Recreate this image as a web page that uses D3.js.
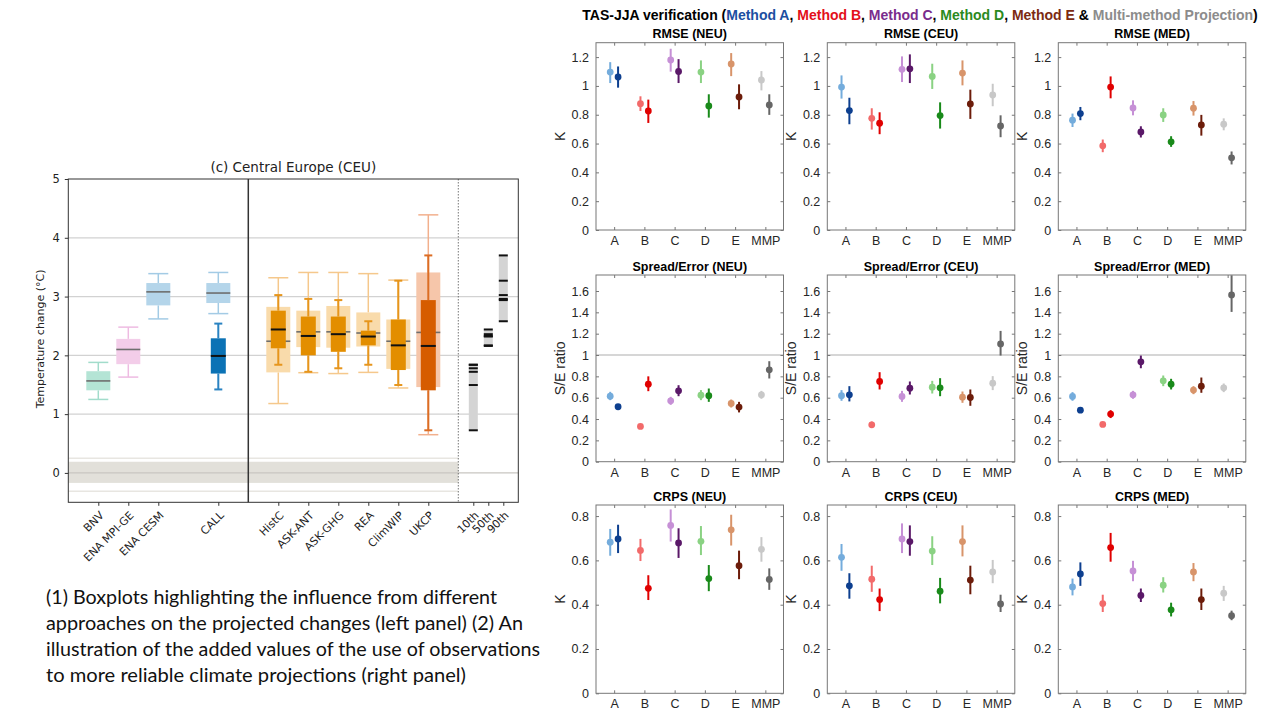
<!DOCTYPE html>
<html><head><meta charset="utf-8">
<script src="https://cdn.jsdelivr.net/npm/d3@7"></script>
<style>body{margin:0;background:#fff;} svg{display:block;}</style>
</head><body>
<svg id="c" width="1280" height="720"></svg>
<script>
// ================= DATA =================
// Left panel: boxplots of projected CEU temperature change
const boxCategories = ["BNV","ENA MPI-GE","ENA CESM","CALL","HistC","ASK-ANT","ASK-GHG","REA","ClimWIP","UKCP"];
// [lower whisker, q1, median, q3, upper whisker]
const outerBoxStats = [
  [1.25,1.405,1.565,1.73,1.88],
  [1.63,1.85,2.10,2.28,2.48],
  [2.62,2.85,3.08,3.23,3.39],
  [2.71,2.89,3.06,3.23,3.41],
  [1.18,1.71,2.24,2.825,3.32],
  [1.705,2.14,2.40,2.76,3.41],
  [1.69,2.13,2.40,2.84,3.41],
  [1.71,2.15,2.38,2.73,3.39],
  [1.445,1.77,2.24,2.61,3.28],
  [0.65,1.46,2.39,3.41,4.39]
];
const innerBoxStats = [
  null, null, null,
  [1.42,1.69,1.99,2.29,2.54],
  [1.84,2.12,2.44,2.76,3.025],
  [1.72,2.00,2.33,2.66,2.96],
  [1.78,2.06,2.36,2.66,2.94],
  [1.84,2.17,2.32,2.42,2.58],
  [1.495,1.75,2.17,2.61,3.27],
  [0.725,1.405,2.16,2.94,3.70]
];
const percentileLabels = ["10th","50th","90th"];
const zeroBandInner = [-0.17, 0.19];
const zeroBandOuter = [-0.31, 0.25];
const leftYTicks = [0,1,2,3,4,5];

// Right panels
const methods = ["A","B","C","D","E","MMP"];
const regions = ["NEU","CEU","MED"];
const metricNames = ["RMSE","Spread/Error","CRPS"];
const metricUnits = ["K","S/E ratio","K"];
const rmseTicks = [0,0.2,0.4,0.6,0.8,1,1.2];
const seTicks = [0,0.2,0.4,0.6,0.8,1,1.2,1.4,1.6];
const crpsTicks = [0,0.2,0.4,0.6,0.8];
// [value, low, high] per method
const rmseNEU_light = [[1.096,1.02,1.165],[0.877,0.826,0.928],[1.18,1.099,1.258],[1.096,1.02,1.177],[1.152,1.068,1.228],[1.041,0.969,1.103]];
const rmseNEU_dark  = [[1.062,0.988,1.135],[0.826,0.743,0.905],[1.10,1.02,1.186],[0.861,0.78,0.942],[0.923,0.838,1.011],[0.868,0.799,0.942]];
const rmseCEU_light = [[0.992,0.912,1.073],[0.775,0.697,0.845],[1.115,1.027,1.205],[1.066,0.979,1.154],[1.089,1.004,1.177],[0.937,0.859,1.015]];
const rmseCEU_dark  = [[0.829,0.734,0.918],[0.741,0.665,0.817],[1.119,1.02,1.219],[0.794,0.704,0.886],[0.875,0.771,0.974],[0.722,0.644,0.796]];
const rmseMED_light = [[0.762,0.715,0.808],[0.584,0.54,0.628],[0.847,0.796,0.9],[0.799,0.75,0.845],[0.845,0.794,0.895],[0.734,0.692,0.775]];
const rmseMED_dark  = [[0.808,0.762,0.854],[0.992,0.914,1.066],[0.681,0.642,0.72],[0.612,0.577,0.651],[0.729,0.655,0.799],[0.501,0.455,0.545]];
const seNEU_light = [[0.614,0.577,0.655],[0.331,0.312,0.349],[0.571,0.533,0.608],[0.624,0.577,0.671],[0.546,0.508,0.583],[0.627,0.59,0.664]];
const seNEU_dark  = [[0.515,0.49,0.54],[0.727,0.661,0.80],[0.664,0.614,0.717],[0.618,0.561,0.686],[0.512,0.462,0.561],[0.861,0.78,0.942]];
const seCEU_light = [[0.618,0.571,0.671],[0.346,0.318,0.377],[0.611,0.561,0.664],[0.699,0.639,0.758],[0.605,0.552,0.658],[0.736,0.671,0.802]];
const seCEU_dark  = [[0.627,0.565,0.708],[0.752,0.677,0.839],[0.689,0.63,0.752],[0.692,0.614,0.783],[0.602,0.524,0.677],[1.104,0.995,1.226]];
const seMED_light = [[0.611,0.571,0.652],[0.349,0.328,0.371],[0.627,0.59,0.664],[0.758,0.708,0.808],[0.671,0.633,0.708],[0.692,0.652,0.733]];
const seMED_dark  = [[0.483,0.465,0.502],[0.446,0.409,0.483],[0.936,0.876,0.995],[0.727,0.677,0.777],[0.708,0.646,0.789],[1.563,1.404,1.747]];
const crpsNEU_light = [[0.682,0.621,0.742],[0.645,0.597,0.697],[0.758,0.685,0.83],[0.686,0.624,0.755],[0.738,0.667,0.806],[0.65,0.594,0.705]];
const crpsNEU_dark  = [[0.697,0.633,0.761],[0.474,0.421,0.533],[0.679,0.611,0.745],[0.518,0.461,0.579],[0.576,0.515,0.644],[0.514,0.467,0.564]];
const crpsCEU_light = [[0.614,0.553,0.674],[0.515,0.458,0.576],[0.697,0.633,0.767],[0.642,0.579,0.709],[0.685,0.618,0.758],[0.548,0.497,0.602]];
const crpsCEU_dark  = [[0.485,0.427,0.542],[0.423,0.371,0.473],[0.685,0.621,0.758],[0.461,0.406,0.521],[0.511,0.447,0.576],[0.403,0.367,0.445]];
const crpsMED_light = [[0.48,0.442,0.518],[0.405,0.367,0.445],[0.552,0.506,0.598],[0.488,0.455,0.524],[0.548,0.506,0.588],[0.452,0.417,0.485]];
const crpsMED_dark  = [[0.539,0.485,0.591],[0.658,0.594,0.724],[0.442,0.412,0.473],[0.377,0.347,0.409],[0.423,0.376,0.473],[0.35,0.33,0.373]];

const captionLines = [
  "(1) Boxplots highlighting the influence from different",
  "approaches on the projected changes (left panel) (2) An",
  "illustration of the added values of the use of observations",
  "to more reliable climate projections (right panel)"
];

// ================= STYLES / LAYOUT =================
const FONT_MPL = "'DejaVu Sans', sans-serif";
const FONT_ML = "'Liberation Sans', Arial, sans-serif";
const boxSlots = [1,2,3,5,7,8,9,10,11,12];
const pctSlots = [13.5,14,14.5];
const outerFill = ["#b4e4d5","#f3cde9","#b4d5ea","#b4d5ea","#f9dbab","#f9dbab","#f9dbab","#f9dbab","#f9dbab","#f6c6aa"];
const outerLine = ["#a2dccb","#eebbe2","#a3cbe5","#a3cbe5","#f5c88c","#f5c88c","#f5c88c","#f5c88c","#f5c88c","#f2b08d"];
const innerFill = [null,null,null,"#0b72b5","#e38e00","#e38e00","#e38e00","#e38e00","#e38e00","#d65c00"];
const innerLine = [null,null,null,"#2a83c2","#e6951c","#e6951c","#e6951c","#e6951c","#e6951c","#dc6d24"];
const lightCol = ["#74acdc","#f26a6a","#c690d6","#8ad283","#d8946a","#c8c8c8"];
const darkCol  = ["#0d3f8f","#e00000","#5a1868","#198a1a","#6c1c0a","#666666"];

const svg = d3.select("#c");

// ================= LEFT PANEL =================
const xL = d3.scaleLinear().domain([0,15]).range([68.3,518.3]);
const yL = d3.scaleLinear().domain([-0.5,5]).range([502.3,179]);
const gL = svg.append("g");

// zero band
gL.append("rect").attr("x",xL(0)).attr("width",xL(13)-xL(0))
  .attr("y",yL(zeroBandInner[1])).attr("height",yL(zeroBandInner[0])-yL(zeroBandInner[1]))
  .attr("fill","#e2e0da");
zeroBandOuter.forEach(v=>{
  gL.append("line").attr("x1",xL(0)).attr("x2",xL(13)).attr("y1",yL(v)).attr("y2",yL(v))
    .attr("stroke","#e8e6e1").attr("stroke-width",1.5);
});
// gridlines
leftYTicks.filter(v=>v<5).forEach(v=>{
  gL.append("line").attr("x1",xL(0)).attr("x2",xL(15)).attr("y1",yL(v)).attr("y2",yL(v))
    .attr("stroke", v===0 ? "#c8c6c1" : "#d2d2d2").attr("stroke-width",1.2);
});

function drawBox(g, s, cx, half, capHalf, fill, wcol, mcol, ww, mw){
  g.append("line").attr("x1",cx).attr("x2",cx).attr("y1",yL(s[3])).attr("y2",yL(s[4])).attr("stroke",wcol).attr("stroke-width",ww);
  g.append("line").attr("x1",cx).attr("x2",cx).attr("y1",yL(s[1])).attr("y2",yL(s[0])).attr("stroke",wcol).attr("stroke-width",ww);
  [s[0],s[4]].forEach(v=>{
    g.append("line").attr("x1",cx-capHalf).attr("x2",cx+capHalf).attr("y1",yL(v)).attr("y2",yL(v)).attr("stroke",wcol).attr("stroke-width",ww);
  });
  g.append("rect").attr("x",cx-half).attr("width",2*half).attr("y",yL(s[3])).attr("height",yL(s[1])-yL(s[3])).attr("fill",fill);
  g.append("line").attr("x1",cx-half).attr("x2",cx+half).attr("y1",yL(s[2])).attr("y2",yL(s[2])).attr("stroke",mcol).attr("stroke-width",mw);
}

boxCategories.forEach((c,i)=>{
  drawBox(gL, outerBoxStats[i], xL(boxSlots[i]), 12, 10, outerFill[i], outerLine[i], "#6e6e6e", 1.5, 1.6);
});
boxCategories.forEach((c,i)=>{
  if(!innerBoxStats[i]) return;
  drawBox(gL, innerBoxStats[i], xL(boxSlots[i]), 7.5, 4, innerFill[i], innerLine[i], "#111", 2, 2);
});

// percentile bars derived from constrained-method boxes
const constrained = innerBoxStats.slice(4);
const pctValues = [constrained.map(s=>s[0]), constrained.map(s=>s[2]), constrained.map(s=>s[4])];
pctValues.forEach((vals,k)=>{
  const cx = xL(pctSlots[k]);
  const lo = d3.min(vals), hi = d3.max(vals);
  gL.append("rect").attr("x",cx-4.5).attr("width",9).attr("y",yL(hi)).attr("height",yL(lo)-yL(hi)).attr("fill","#d4d4d4");
  vals.forEach(v=>{
    gL.append("line").attr("x1",cx-4.5).attr("x2",cx+4.5).attr("y1",yL(v)).attr("y2",yL(v)).attr("stroke","#111").attr("stroke-width",2);
  });
});

// separators
gL.append("line").attr("x1",xL(6)).attr("x2",xL(6)).attr("y1",yL(5)).attr("y2",yL(-0.5)).attr("stroke","#333").attr("stroke-width",1.5);
gL.append("line").attr("x1",xL(13)).attr("x2",xL(13)).attr("y1",yL(5)).attr("y2",yL(-0.5)).attr("stroke","#555").attr("stroke-width",0.8).attr("stroke-dasharray","1.5,1.5");
// frame
gL.append("rect").attr("x",xL(0)).attr("y",yL(5)).attr("width",xL(15)-xL(0)).attr("height",yL(-0.5)-yL(5))
  .attr("fill","none").attr("stroke","#333").attr("stroke-width",1);

// axes
const axLy = gL.append("g").attr("transform",`translate(${xL(0)},0)`)
  .call(d3.axisLeft(yL).tickValues(leftYTicks).tickFormat(d3.format("d")).tickSize(3.5).tickPadding(5));
axLy.select(".domain").remove();
axLy.selectAll("text").style("font-family",FONT_MPL).style("font-size","11.5px").attr("fill","#222");
axLy.selectAll("line").attr("stroke","#333");

const slotLabel = new Map();
boxSlots.forEach((s,i)=>slotLabel.set(s,boxCategories[i]));
pctSlots.forEach((s,i)=>slotLabel.set(s,percentileLabels[i]));
const axLx = gL.append("g").attr("transform",`translate(0,${yL(-0.5)})`)
  .call(d3.axisBottom(xL).tickValues(boxSlots.concat(pctSlots)).tickFormat(s=>slotLabel.get(s)).tickSize(3.5));
axLx.select(".domain").remove();
axLx.selectAll("line").attr("stroke","#333");
axLx.selectAll("text").attr("x",0).attr("y",0).attr("dy","0.35em")
  .attr("transform","translate(3,11) rotate(-45)").style("text-anchor","end")
  .style("font-family",FONT_MPL).style("font-size","11px").attr("fill","#222");

gL.append("text").attr("x",(xL(0)+xL(15))/2).attr("y",172).attr("text-anchor","middle")
  .style("font-family",FONT_MPL).style("font-size","13.5px").attr("fill","#222").text("(c) Central Europe (CEU)");
gL.append("text").attr("transform",`translate(44,${yL(2.28)}) rotate(-90)`).attr("text-anchor","middle")
  .style("font-family",FONT_MPL).style("font-size","11px").attr("fill","#222").text("Temperature change (°C)");

// caption
const capWidths = [451,477,494,420];
captionLines.forEach((t,i)=>{
  svg.append("text").attr("x",46).attr("y",604+i*26)
    .attr("textLength",capWidths[i]).attr("lengthAdjust","spacingAndGlyphs")
    .style("font-family","Lato, sans-serif").style("font-size","18.5px").attr("fill","#111").text(t);
});

// ================= RIGHT PANELS =================
const colX = [596, 827.3, 1058.3];
const panelW = 187.5;
const rowY = [[42.7,230],[275,461.7],[505,693.3]];
const yMax = [1.3,1.75,0.85];
const metricTicks = [rmseTicks, seTicks, crpsTicks];
const panelData = [
  [[rmseNEU_light,rmseNEU_dark],[rmseCEU_light,rmseCEU_dark],[rmseMED_light,rmseMED_dark]],
  [[seNEU_light,seNEU_dark],[seCEU_light,seCEU_dark],[seMED_light,seMED_dark]],
  [[crpsNEU_light,crpsNEU_dark],[crpsCEU_light,crpsCEU_dark],[crpsMED_light,crpsMED_dark]]
];
const fmt = v => String(+v.toFixed(1));

metricNames.forEach((m,r)=>{
  regions.forEach((reg,c)=>{
    const x0 = colX[c], x1 = x0+panelW, yTop = rowY[r][0], yBot = rowY[r][1];
    const xs = d3.scaleLinear().domain([0.4,6.6]).range([x0,x1]);
    const ys = d3.scaleLinear().domain([0,yMax[r]]).range([yBot,yTop]);
    const g = svg.append("g");
    if(r===1){
      g.append("line").attr("x1",x0).attr("x2",x1).attr("y1",ys(1)).attr("y2",ys(1)).attr("stroke","#c8c8c8").attr("stroke-width",1.3);
    }
    const mIdx = methods.map((d,i)=>i+1);
    const ax = (gen, tr, labels) => {
      const a = g.append("g").attr("transform",tr).call(gen);
      a.select(".domain").remove();
      a.selectAll("line").attr("stroke","#777");
      if(!labels) a.selectAll("text").remove();
      else a.selectAll("text").style("font-family",FONT_ML).style("font-size","12.5px").attr("fill","#262626");
      return a;
    };
    ax(d3.axisLeft(ys).tickValues(metricTicks[r]).tickFormat(fmt).tickSizeInner(-3).tickSizeOuter(0).tickPadding(7), `translate(${x0},0)`, true);
    ax(d3.axisRight(ys).tickValues(metricTicks[r]).tickSizeInner(-3).tickSizeOuter(0), `translate(${x1},0)`, false);
    ax(d3.axisBottom(xs).tickValues(mIdx).tickFormat(i=>methods[i-1]).tickSizeInner(-3).tickSizeOuter(0).tickPadding(6), `translate(0,${yBot})`, true);
    ax(d3.axisTop(xs).tickValues(mIdx).tickSizeInner(-3).tickSizeOuter(0), `translate(0,${yTop})`, false);
    g.append("rect").attr("x",x0).attr("y",yTop).attr("width",panelW).attr("height",yBot-yTop)
      .attr("fill","none").attr("stroke","#777").attr("stroke-width",1);

    const [light,dark] = panelData[r][c];
    [[light,-0.13,lightCol],[dark,0.13,darkCol]].forEach(([arr,off,cols])=>{
      arr.forEach((d,i)=>{
        const cx = xs(i+1+off);
        g.append("line").attr("x1",cx).attr("x2",cx).attr("y1",ys(d[1])).attr("y2",ys(d[2]))
          .attr("stroke",cols[i]).attr("stroke-width",2);
        g.append("circle").attr("cx",cx).attr("cy",ys(d[0])).attr("r",3.4).attr("fill",cols[i]);
      });
    });

    g.append("text").attr("x",(x0+x1)/2).attr("y",yTop-4.5).attr("text-anchor","middle")
      .style("font-family",FONT_ML).style("font-size","12.5px").style("font-weight","bold").attr("fill","#000")
      .text(`${m} (${reg})`);
    g.append("text").attr("transform",`translate(${x0-31},${(yTop+yBot)/2}) rotate(-90)`).attr("text-anchor","middle")
      .style("font-family",FONT_ML).style("font-size","14px").attr("fill","#262626").text(metricUnits[r]);
  });
});

// main title
const title = svg.append("text").attr("x",920).attr("y",20).attr("text-anchor","middle")
  .style("font-family",FONT_ML).style("font-size","14px").style("font-weight","bold");
[["TAS-JJA verification (","#000"],["Method A","#1c4fa1"],[", ","#000"],["Method B","#e3101a"],[", ","#000"],
 ["Method C","#7a2c8c"],[", ","#000"],["Method D","#2b8a1e"],[", ","#000"],["Method E","#7c2a12"],
 [" & ","#000"],["Multi-method Projection","#8c8c8c"],[")","#000"]].forEach(([t,col])=>{
  title.append("tspan").attr("fill",col).text(t);
});
</script>
</body></html>
